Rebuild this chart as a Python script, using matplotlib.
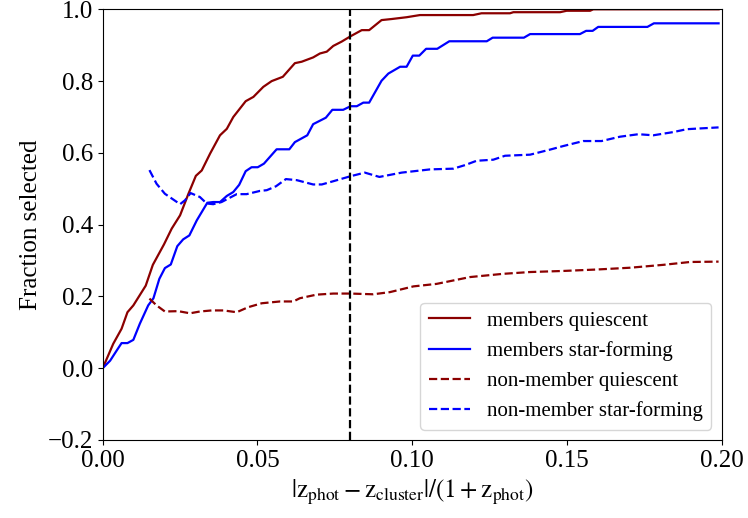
import matplotlib
matplotlib.use("Agg")
import matplotlib.pyplot as plt

plt.rcParams["font.family"] = ["Liberation Serif", "DejaVu Serif"]
plt.rcParams["mathtext.fontset"] = "stix"

# members, quiescent
mq_x = [0.0, 0.0034, 0.0061, 0.0080, 0.0099, 0.0139, 0.0162, 0.0198, 0.0223, 0.0250,
        0.0277, 0.0301, 0.0320, 0.0347, 0.0379, 0.0401, 0.0422, 0.0462, 0.0487, 0.0519,
        0.0546, 0.0582, 0.0621, 0.0643, 0.0680, 0.0702, 0.0724, 0.0745, 0.0772, 0.0801,
        0.0837, 0.0861, 0.0901, 0.0934, 0.0982, 0.1025, 0.1197, 0.1224, 0.1316, 0.1327,
        0.1478, 0.1499, 0.1575, 0.1585, 0.1990]
mq_y = [0.0, 0.068, 0.110, 0.156, 0.175, 0.230, 0.288, 0.345, 0.389, 0.426,
        0.486, 0.536, 0.551, 0.598, 0.649, 0.667, 0.700, 0.744, 0.756, 0.784,
        0.800, 0.812, 0.850, 0.854, 0.866, 0.877, 0.882, 0.898, 0.910, 0.925,
        0.942, 0.942, 0.970, 0.973, 0.978, 0.984, 0.984, 0.989, 0.989, 0.992,
        0.992, 0.996, 0.996, 1.0, 1.0]

# members, star-forming
msf_x = [0.0, 0.0024, 0.0045, 0.0061, 0.0080, 0.0099, 0.0120, 0.0147, 0.0164, 0.0183,
         0.0201, 0.0220, 0.0241, 0.0260, 0.0280, 0.0304, 0.0338, 0.0357, 0.0379, 0.0401,
         0.0422, 0.0441, 0.0462, 0.0481, 0.0501, 0.0521, 0.0562, 0.0603, 0.0621, 0.0661,
         0.0680, 0.0721, 0.0742, 0.0777, 0.0801, 0.0821, 0.0842, 0.0861, 0.0901, 0.0923,
         0.0961, 0.0982, 0.1002, 0.1023, 0.1045, 0.1081, 0.1120, 0.1241, 0.1260, 0.1361,
         0.1381, 0.1542, 0.1562, 0.1583, 0.1601, 0.1760, 0.1781, 0.1990]
msf_y = [0.0, 0.021, 0.049, 0.070, 0.070, 0.079, 0.124, 0.175, 0.195, 0.249,
         0.279, 0.289, 0.340, 0.359, 0.370, 0.412, 0.461, 0.463, 0.463, 0.480,
         0.491, 0.511, 0.549, 0.560, 0.560, 0.570, 0.610, 0.610, 0.630, 0.649,
         0.680, 0.698, 0.720, 0.720, 0.730, 0.730, 0.740, 0.740, 0.801, 0.821,
         0.840, 0.840, 0.871, 0.871, 0.890, 0.890, 0.911, 0.911, 0.921, 0.921,
         0.931, 0.931, 0.940, 0.940, 0.951, 0.951, 0.961, 0.961]

# non-members, quiescent
nq_x = [0.0151, 0.0174, 0.0201, 0.0244, 0.0282, 0.0314, 0.0352, 0.0390, 0.0433, 0.0470,
        0.0514, 0.0573, 0.0616, 0.0637, 0.0691, 0.0745, 0.0801, 0.0874, 0.0928, 0.1004,
        0.1079, 0.1187, 0.1294, 0.1381, 0.1488, 0.1596, 0.1704, 0.1811, 0.1898, 0.1990]
nq_y = [0.194, 0.175, 0.158, 0.159, 0.153, 0.158, 0.161, 0.161, 0.156, 0.170,
        0.181, 0.186, 0.186, 0.195, 0.205, 0.208, 0.208, 0.206, 0.212, 0.228,
        0.235, 0.254, 0.263, 0.268, 0.271, 0.275, 0.280, 0.288, 0.296, 0.297]

# non-members, star-forming
nsf_x = [0.0151, 0.0174, 0.0201, 0.0250, 0.0266, 0.0284, 0.0314, 0.0336, 0.0357, 0.0384,
         0.0433, 0.0465, 0.0508, 0.0530, 0.0560, 0.0592, 0.0627, 0.0680, 0.0708, 0.0745,
         0.0801, 0.0847, 0.0894, 0.0966, 0.1058, 0.1133, 0.1171, 0.1208, 0.1262, 0.1300,
         0.1381, 0.1445, 0.1488, 0.1553, 0.1612, 0.1671, 0.1731, 0.1779, 0.1844, 0.1887,
         0.1990]
nsf_y = [0.552, 0.514, 0.486, 0.457, 0.468, 0.488, 0.477, 0.459, 0.457, 0.463,
         0.485, 0.485, 0.494, 0.496, 0.507, 0.527, 0.524, 0.512, 0.512, 0.521,
         0.535, 0.545, 0.533, 0.545, 0.554, 0.556, 0.566, 0.578, 0.581, 0.592,
         0.595, 0.609, 0.619, 0.633, 0.633, 0.645, 0.652, 0.649, 0.658, 0.666,
         0.671]

z_cut = 0.08

fig = plt.figure(figsize=(7.48, 5.18), dpi=100)
ax = fig.add_axes([0.1373, 0.1506, 0.8275, 0.8314])

ax.plot(mq_x, mq_y, color="darkred", lw=1.6, label="members quiescent")
ax.plot(msf_x, msf_y, color="blue", lw=1.6, label="members star-forming")
ax.plot(nq_x, nq_y, color="darkred", lw=1.6, ls="--", label="non-member quiescent")
ax.plot(nsf_x, nsf_y, color="blue", lw=1.6, ls="--", label="non-member star-forming")
ax.axvline(z_cut, color="black", lw=1.6, ls="--")

ax.set_xlim(0, 0.2)
ax.set_ylim(-0.2, 1.0)
ax.set_xticks([0.0, 0.05, 0.10, 0.15, 0.20])
ax.set_xticklabels(["0.00", "0.05", "0.10", "0.15", "0.20"])
ax.tick_params(labelsize=18)
ax.set_xlabel(r"$|\rm z_{phot}-z_{cluster}|/(1+z_{phot})$", fontsize=18)
ax.set_ylabel("Fraction selected", fontsize=18)
ax.legend(loc="lower right", fontsize=15)

fig.savefig("out.png", dpi=100)
